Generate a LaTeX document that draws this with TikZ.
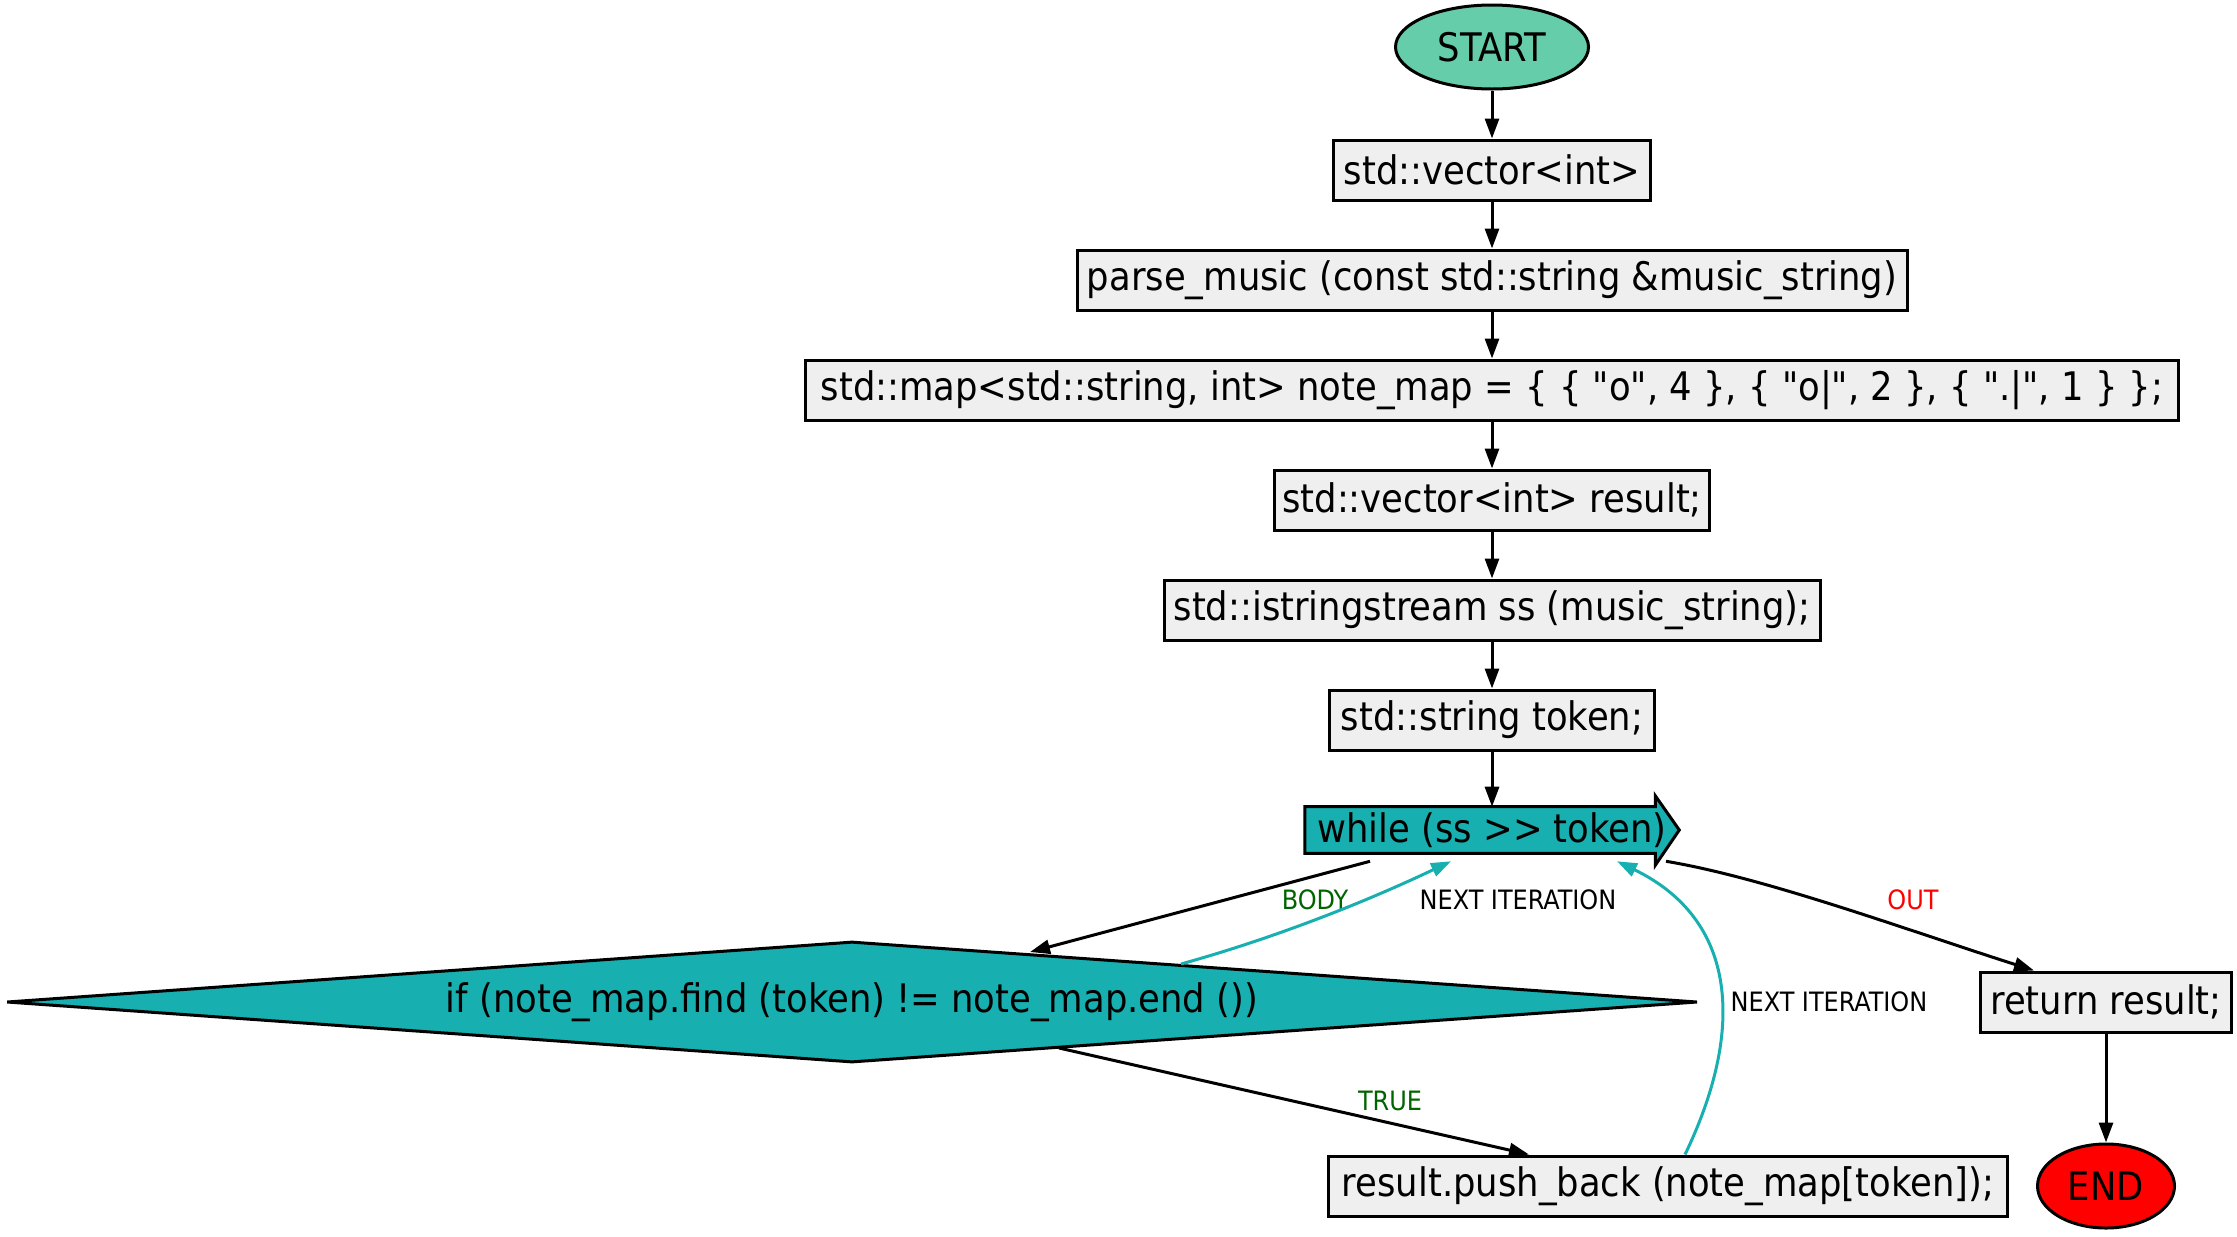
\documentclass[tikz,border=0pt]{standalone}
\usepackage{fontspec}
\setmainfont{DejaVu Sans Condensed}[Ligatures=TeXOff]
\usetikzlibrary{shapes.geometric,arrows.meta,calc}
\definecolor{startc}{HTML}{66CDAA}
\definecolor{tealc}{HTML}{17AFAF}
\definecolor{boxc}{HTML}{EFEFEF}
\definecolor{lgreen}{HTML}{006400}
\begin{document}
\begin{tikzpicture}[x=0.75pt,y=-0.75pt,
  every node/.style={font=\fontsize{29.5}{34}\selectfont, inner sep=0pt},
  stepbox/.style={draw, line width=2.25pt, fill=boxc, rectangle, minimum height=45pt},
  term/.style={draw, line width=2.25pt, ellipse, minimum height=63pt},
  conn/.style={line width=2.25pt, -{Triangle[length=15pt,width=10.5pt]}},
  loopc/.style={conn, draw=tealc, -{Triangle[length=15pt,width=10.5pt,fill=tealc]}},
  elabel/.style={font=\fontsize{20}{24}\selectfont}
]
\useasboundingbox (0,0) rectangle (2237,1236);

\node[term, fill=startc, minimum width=144.75pt] (start) at (1492,47) {START};
\node[stepbox, minimum width=237.75pt] (v1) at (1492,170) {std::vector<int>};
\node[stepbox, minimum width=622.5pt] (parse) at (1492,280) {parse\_music (const std::string \&music\_string)};
\node[stepbox, minimum width=1029.75pt] (map) at (1492,390) {std::map<std::string, int> note\_map = \{ \{ "o", 4 \}, \{ "o|", 2 \}, \{ ".|", 1 \} \};};
\node[stepbox, minimum width=326.25pt] (res) at (1492,500) {std::vector<int> result;};
\node[stepbox, minimum width=492pt] (iss) at (1492,610) {std::istringstream ss (music\_string);};
\node[stepbox, minimum width=243.75pt] (tok) at (1492,720) {std::string token;};

% while (rarrow)
\node[minimum width=280.5pt, minimum height=34.5pt] (while) at (1492,830) {};
\draw[line width=2.25pt, fill=tealc, line join=miter]
  (while.north west) -- ($(while.north east)+(-24,0)$) -- ($(while.north east)+(-24,-11)$)
  -- (while.east) -- ($(while.south east)+(-24,12)$) -- ($(while.south east)+(-24,0)$)
  -- (while.south west) -- cycle;
\node at (while) {while (ss >> token)};

\node[diamond, draw, line width=2.25pt, fill=tealc, aspect=14, minimum width=1268.25pt, minimum height=90.75pt] (dia) at (852,1002) {if (note\_map.find (token) != note\_map.end ())};

\node[stepbox, minimum width=188.25pt] (ret) at (2106,1002) {return result;};
\node[stepbox, minimum width=509.25pt] (push) at (1668,1186) {result.push\_back (note\_map[token]);};
\node[term, fill=red, minimum width=102.75pt] (end) at (2106,1186) {END};

\draw[conn] (start) -- (v1);
\draw[conn] (v1) -- (parse);
\draw[conn] (parse) -- (map);
\draw[conn] (map) -- (res);
\draw[conn] (res) -- (iss);
\draw[conn] (iss) -- (tok);
\draw[conn] (tok) -- (while.north);

% BODY
\draw[conn] ($(while.south)+(-122,8)$) -- ($(dia.center)+(178,-50)$);
\node[elabel, text=lgreen] (lbody) at (1315,900) {BODY};

% NEXT ITERATION 1
\draw[loopc] ($(dia.center)+(329,-38)$) .. controls (1271,939) and (1361,904) .. ($(while.south)+(-41,8)$);
\node[elabel] (lni1) at (1518,900) {NEXT ITERATION};

% OUT
\draw[conn] ($(while.south)+(174,8)$) .. controls (1766,878) and (1904,929) .. ($(ret.north)+(-72,0)$);
\node[elabel, text=red] (lout) at (1913,900) {OUT};

% TRUE
\draw[conn] ($(dia.center)+(207,46)$) -- ($(push.north)+(-139,0)$);
\node[elabel, text=lgreen] (ltrue) at (1390,1101) {TRUE};

% NEXT ITERATION 2
\draw[loopc] ($(push.north)+(17,0)$) .. controls (1745,1030) and (1738,920) .. ($(while.south)+(125,8)$);
\node[elabel] (lni2) at (1829,1002) {NEXT ITERATION};

\draw[conn] (ret) -- (end);
\end{tikzpicture}
\end{document}
